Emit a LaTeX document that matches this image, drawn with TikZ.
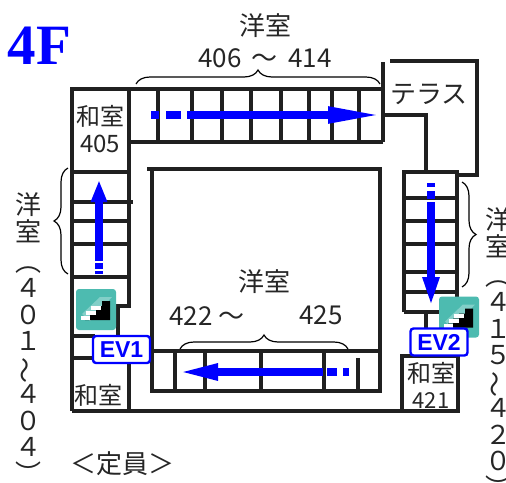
\documentclass[tikz,border=0pt]{standalone}
\usepackage{fontspec}
\usepackage{graphicx}
\setmainfont{Noto Sans CJK JP}
\newfontfamily\titlefont{Liberation Serif}
\newfontfamily\evfont{Liberation Sans}
\usetikzlibrary{shapes,arrows.meta,decorations.pathreplacing}
\definecolor{wallgray}{HTML}{202020}
\definecolor{iconteal}{HTML}{4DBBB0}
\definecolor{routeblue}{HTML}{0000FF}
\newcommand{\jpfont}[1]{\fontsize{#1}{#1}\selectfont}
\newcommand{\wavemark}{\rotatebox[origin=c]{90}{〜}}
\tikzstyle{wall} = [draw=wallgray, line width=3.3pt]
\tikzstyle{label} = [inner sep=0pt, text=black!85, font=\jpfont{26}]
\tikzstyle{small} = [inner sep=0pt, text=black!85, font=\jpfont{24}]
\tikzstyle{stack} = [inner sep=0pt, text=black!85, align=center,
    font=\fontsize{26}{26.5}\selectfont]
\tikzstyle{bracket} = [draw=black, line width=1.2pt, decorate,
    decoration={brace, amplitude=14pt, aspect=0.5}]
\tikzstyle{route} = [draw=routeblue, line width=8pt]
\tikzstyle{evbox} = [draw=routeblue, fill=white, line width=2.4pt, rounded corners=3pt,
    minimum width=57pt, minimum height=27pt, inner sep=0pt, text=routeblue,
    font=\evfont\bfseries\fontsize{23}{23}\selectfont]
\tikzset{
  stairicon/.pic={
    \fill[iconteal, rounded corners=3pt] (0,0) rectangle (40,41);
    \fill[iconteal!70!white] (6,25) -- (24,8) -- (36,8) -- (14,32) -- cycle;
    \fill[black] (9,31) -- (34,31) -- (34,12) -- (26,12) -- (26,17) -- (20,17)
        -- (20,22) -- (14,22) -- (14,27) -- (9,27) -- cycle;
    \fill[white] (5,27) rectangle (14,31);
    \fill[white] (10,22) rectangle (20,26);
    \fill[white] (15,17) rectangle (25,21);
  }
}
\begin{document}
\begin{tikzpicture}[x=1pt, y=-1pt]
    \useasboundingbox (0,0) rectangle (506,482);
    % Outer walls
    \path [wall] (383,142) -- (129,142) (129,411) -- (129,358) (72,358) -- (129,358);
    \path [wall] (72,411) -- (72,89) -- (383,89);
    \path [wall] (72,411) -- (458,411) -- (458,356) -- (402,356) -- (402,411);
    \path [wall] (129,89) -- (129,306) -- (118,306) -- (118,335);
    \path [wall] (72,277) -- (129,277);
    \path [wall] (72,336) -- (95,336);
    % Top row
    \foreach \x in {158,192,222,251,281,309,332,359}
        \path [wall] (\x,89) -- (\x,142);
    \path [wall] (383,62) -- (383,142);
    % Left column
    \foreach \y in {172,221,244}
        \path [wall] (72,\y) -- (129,\y);
    \path [wall] (72,202) -- (133,202);
    % Terrace
    \path [wall] (390,61) -- (477,61) -- (477,175) -- (457,175);
    \path [wall] (383,115) -- (426,115) -- (426,172);
    % Right column
    \path [wall] (404,312) -- (404,172) -- (457,172) -- (457,305);
    \foreach \y in {198,221,244,272,292}
        \path [wall] (404,\y) -- (457,\y);
    \path [wall] (404,312) -- (445,312);
    \path [wall] (426,312) -- (426,335);
    % Court
    \path [wall] (147,169) -- (380,169) -- (380,391) -- (152,391) -- (152,169);
    \path [wall] (152,351) -- (380,351);
    \foreach \x in {175,205,261,324}
        \path [wall] (\x,351) -- (\x,391);
    \path [wall] (358,358) -- (358,391);
    % Braces
    \path [bracket] (136,84) -- (380,84);
    \path [bracket] (68,274) -- (68,168);
    \path [bracket] (462,182) -- (462,287);
    \path [bracket] (180,349) -- (348,349);
    % Routes
    \coordinate (topstart) at (151,115);
    \coordinate (topend) at (384,115);
    \coordinate (leftstart) at (99,274);
    \coordinate (leftend) at (99,180);
    \coordinate (rightstart) at (431,183);
    \coordinate (rightend) at (431,307);
    \coordinate (lowstart) at (349,372);
    \coordinate (lowend) at (177,372);
    \path [route, dash pattern=on 8pt off 7pt on 15pt off 6pt on 400pt,
        -{Triangle[length=56pt, width=15pt]}] (topstart) -- (topend);
    \path [route, dash pattern=on 3pt off 2pt on 6pt off 2pt on 400pt,
        -{Triangle[length=22pt, width=15pt]}] (leftstart) -- (leftend);
    \path [route, dash pattern=on 4pt off 4pt on 8pt off 3pt on 400pt,
        -{Triangle[length=30pt, width=15pt]}] (rightstart) -- (rightend);
    \path [route, dash pattern=on 6pt off 6pt on 10pt off 4pt on 400pt,
        -{Triangle[length=41pt, width=15pt]}] (lowstart) -- (lowend);
    % Stair icons
    \pic at (76,289) {stairicon};
    \pic at (439,296.5) {stairicon};
    % Place nodes
    \node [evbox] (ev1) at (121.5,349.5) {EV1};
    \node [evbox] (ev2) at (439,342) {EV2};
    \node [inner sep=0pt, text=routeblue, font=\titlefont\bfseries\fontsize{57}{57}\selectfont]
        (floor) at (39.5,46) {4F};
    \node [label] (westop) at (265,26) {洋室};
    \node [label] (numtop) at (265,58) {406\, 〜\, 414};
    \node [label] (terrace) at (429,94) {テラス};
    \node [small] (wa405) at (100,116) {和室};
    \node [small] (num405) at (100,144) {405};
    \node [small] (wa1) at (98,395) {和室};
    \node [small] (wa421) at (431,373) {和室};
    \node [inner sep=0pt, text=black!85, font=\jpfont{22}] (num421) at (431,401) {421};
    \node [label] (wesmid) at (264,282) {洋室};
    \node [label] (num422) at (207,316) {422 〜};
    \node [label] (num425) at (321,315) {425};
    \node [label] (teiin) at (122,464) {＜定員＞};
    \node [stack, anchor=north] (westleft) at (28,192) {洋\\[1pt]室\\[3pt]︵\\４\\０\\１\\\wavemark\\４\\０\\４\\︶};
    \node [stack, anchor=north] (westright) at (498,207) {洋\\[1pt]室\\[2pt]︵\\４\\１\\５\\\wavemark\\４\\２\\０\\︶};
\end{tikzpicture}
\end{document}
